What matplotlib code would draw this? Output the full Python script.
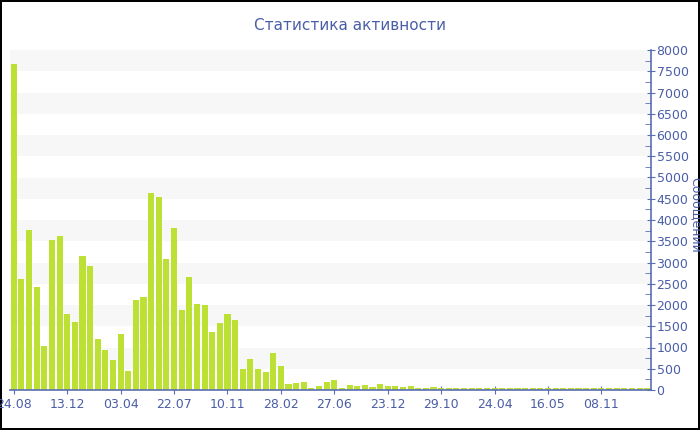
import matplotlib.pyplot as plt
from matplotlib.ticker import MultipleLocator

# данные: сообщения по периодам
values = [7670, 2610, 3770, 2420, 1035, 3530, 3615, 1800, 1590, 3160,
          2920, 1190, 950, 700, 1325, 440, 2120, 2195, 4630, 4550,
          3090, 3820, 1880, 2650, 2030, 1990, 1370, 1576, 1780, 1650,
          494, 729, 494, 431, 871, 557, 149, 165, 180, 47,
          86, 188, 235, 55, 110, 94, 118, 71, 133, 86,
          86, 63, 86, 55, 55, 60, 50, 48, 48, 45,
          45, 45, 48, 45, 45, 42, 42, 42, 42, 45,
          42, 45, 48, 42, 42, 45, 42, 42, 55, 42,
          42, 42, 42, 42]
tick_labels = ['24.08', '13.12', '03.04', '22.07', '10.11', '28.02',
               '27.06', '23.12', '29.10', '24.04', '16.05', '08.11']
tick_step = 7

title = 'Статистика активности'
ylabel = 'Сообщений'

text_color = '#4a5ea8'
axis_color = '#5a6eb4'
bar_color = '#bde035'

fig = plt.figure(figsize=(7, 4.3), dpi=100)
fig.patch.set_edgecolor('black')
fig.patch.set_linewidth(1.5)
ax = fig.add_axes([10 / 700, 40 / 430, 641 / 700, 340 / 430])

x = list(range(len(values)))
ax.bar(x, values, width=0.8, color=bar_color, zorder=2)

# полосы фона
for lo in range(500, 8000, 1000):
    ax.axhspan(lo, lo + 500, color='#f7f7f7', zorder=0, lw=0)

ax.set_xlim(-0.5, len(values) - 0.5)
ax.set_ylim(0, 8000)

ax.set_xticks(x[::tick_step][:len(tick_labels)])
ax.set_xticklabels(tick_labels)

ax.yaxis.tick_right()
ax.yaxis.set_major_locator(MultipleLocator(500))
ax.yaxis.set_minor_locator(MultipleLocator(250))

for s in ['left', 'top']:
    ax.spines[s].set_visible(False)
for s in ['bottom', 'right']:
    ax.spines[s].set_color(axis_color)
    ax.spines[s].set_linewidth(1.2)

ax.tick_params(axis='both', which='major', direction='inout', length=6,
               color=axis_color, labelcolor=text_color, labelsize=9, pad=1)
ax.tick_params(axis='y', which='minor', direction='in', length=4,
               color=axis_color)
ax.tick_params(axis='x', pad=3)

fig.text(350 / 700, 1 - 25 / 430, title, ha='center', va='center',
         color=text_color, fontsize=11)
fig.text(695 / 700, 1 - 215 / 430, ylabel, ha='center', va='center',
         rotation=270, color=text_color, fontsize=9)

plt.savefig('out.png', dpi=100, edgecolor=fig.get_edgecolor())
